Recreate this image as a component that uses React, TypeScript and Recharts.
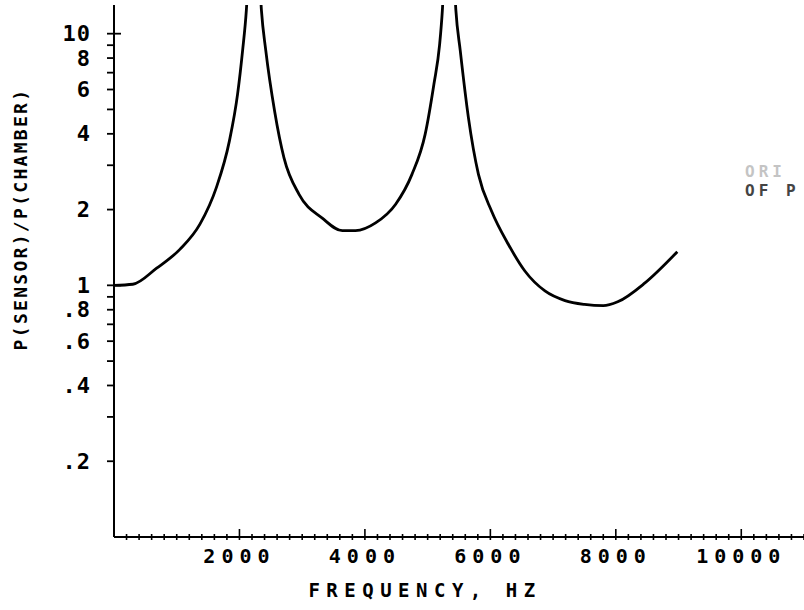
import { LineChart, Line, XAxis, YAxis } from 'recharts';

// frequency (Hz) and pressure ratio
const frequencies = [
  0, 300, 680, 1050, 1370, 1630, 1840, 1970, 2050, 2110, 2230, 2350, 2420, 2560, 2710, 2950,
  3320, 3640, 3850, 4170, 4490, 4750, 4960, 5100, 5190, 5235, 5340, 5450, 5520, 5650, 5810,
  6020, 6290, 6550, 6870, 7190, 7500, 7800, 8030, 8460, 8980,
];
const ratios = [
  1.0, 1.01, 1.17, 1.39, 1.75, 2.44, 3.75, 5.75, 8.56, 12.4, 60, 12.4, 8.56, 4.93, 3.21, 2.3,
  1.85, 1.65, 1.65, 1.77, 2.1, 2.76, 3.98, 6.3, 9.0, 12.4, 60, 12.4, 8.56, 4.64, 2.76,
  1.97, 1.45, 1.14, 0.95, 0.87, 0.84, 0.83, 0.86, 1.02, 1.36,
];

const xMajorTicks = [2000, 4000, 6000, 8000, 10000];
const xMajorLabels = ['2000', '4000', '6000', '8000', '10000'];
const xMinorStep = 200;
const xMax = 11000;

const yTicks = [0.2, 0.3, 0.4, 0.5, 0.6, 0.7, 0.8, 0.9, 1, 2, 3, 4, 5, 6, 7, 8, 9, 10];
const yLabelTicks = [0.2, 0.4, 0.6, 0.8, 1, 2, 4, 6, 8, 10];
const yLabels = ['.2', '.4', '.6', '.8', '1', '2', '4', '6', '8', '10'];

const chartData = frequencies.map((f, i) => ({ freq: f, ratio: ratios[i] }));
const xTicks = Array.from({ length: xMax / xMinorStep }, (_, i) => (i + 1) * xMinorStep);

const FONT = '"DejaVu Sans Mono", monospace';

function XTick({ x, y, payload }: any) {
  const idx = xMajorTicks.indexOf(payload.value);
  const major = idx >= 0;
  return (
    <g>
      <line x1={x} x2={x} y1={y - (major ? 8 : 3)} y2={y + 3} stroke="#000" strokeWidth={1.6} />
      {major && (
        <text
          x={x}
          y={y + 19}
          textAnchor="middle"
          dominantBaseline="central"
          fontFamily={FONT}
          fontSize={20}
          fontWeight="bold"
          letterSpacing={6}
          fill="#000"
        >
          {xMajorLabels[idx]}
        </text>
      )}
    </g>
  );
}

function YTick({ x, y, payload }: any) {
  const idx = yLabelTicks.indexOf(payload.value);
  const cross = payload.value === 1 || payload.value === 10;
  return (
    <g>
      <line x1={x - 7} x2={x + (cross ? 7 : 0)} y1={y} y2={y} stroke="#000" strokeWidth={1.8} />
      {idx >= 0 && (
        <text
          x={x - 23}
          y={y}
          textAnchor="end"
          dominantBaseline="central"
          fontFamily={FONT}
          fontSize={22}
          fontWeight="bold"
          letterSpacing={1}
          fill="#000"
        >
          {yLabels[idx]}
        </text>
      )}
    </g>
  );
}

export default function App() {
  return (
    <div style={{ position: 'absolute', left: 0, top: 0, width: 804, height: 610, overflow: 'hidden', background: '#fff' }}>
      <LineChart width={804} height={610} data={chartData} margin={{ top: 5, right: 0, bottom: 0, left: 0 }}>
        <XAxis
          dataKey="freq"
          type="number"
          domain={[0, xMax]}
          ticks={xTicks}
          interval={0}
          tick={<XTick />}
          tickLine={false}
          tickSize={0}
          tickMargin={0}
          axisLine={{ stroke: '#000', strokeWidth: 2 }}
          height={73}
          allowDataOverflow
        />
        <YAxis
          type="number"
          scale="log"
          domain={[0.1, 13]}
          ticks={yTicks}
          interval={0}
          tick={<YTick />}
          tickLine={false}
          tickSize={0}
          tickMargin={0}
          axisLine={{ stroke: '#000', strokeWidth: 2 }}
          width={114}
          allowDataOverflow
        />
        <Line
          dataKey="ratio"
          type="monotone"
          stroke="#000"
          strokeWidth={2.8}
          dot={false}
          isAnimationActive={false}
        />
        <text
          x={425}
          y={590}
          textAnchor="middle"
          dominantBaseline="central"
          fontFamily={FONT}
          fontSize={19}
          fontWeight="bold"
          letterSpacing={6.5}
          fill="#000"
        >
          FREQUENCY, HZ
        </text>
        <text
          x={20}
          y={219}
          transform="rotate(-90 20 219)"
          textAnchor="middle"
          dominantBaseline="central"
          fontFamily={FONT}
          fontSize={18}
          fontWeight="bold"
          letterSpacing={2.3}
          fill="#000"
        >
          P(SENSOR)/P(CHAMBER)
        </text>
        <text x={745} y={171} dominantBaseline="central" fontFamily={FONT} fontSize={16} fontWeight="bold" letterSpacing={4} fill="#c4c4c4">
          ORI
        </text>
        <text x={745} y={190} dominantBaseline="central" fontFamily={FONT} fontSize={16} fontWeight="bold" letterSpacing={4} fill="#444">
          OF P
        </text>
      </LineChart>
    </div>
  );
}
